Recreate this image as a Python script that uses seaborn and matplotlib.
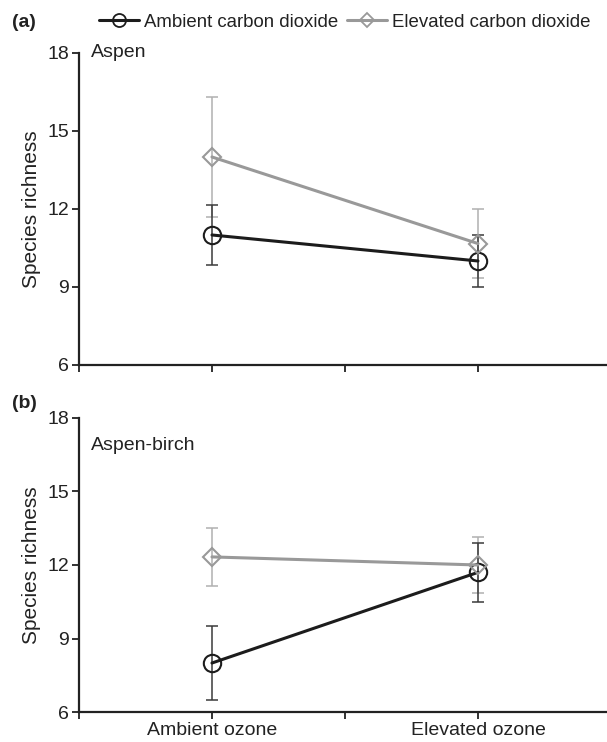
import pandas as pd
import matplotlib
matplotlib.use("Agg")
import matplotlib.pyplot as plt
import seaborn as sns

# values (means and standard errors)
ozone = ["Ambient ozone", "Elevated ozone"]
co2 = ["Ambient carbon dioxide", "Elevated carbon dioxide"]

aspen_ambient = [11.0, 10.0]
aspen_ambient_se = [1.15, 1.0]
aspen_elevated = [14.0, 10.67]
aspen_elevated_se = [2.3, 1.33]

birch_ambient = [8.0, 11.7]
birch_ambient_se = [1.5, 1.2]
birch_elevated = [12.33, 12.0]
birch_elevated_se = [1.2, 1.15]

panels = ["Aspen", "Aspen-birch"]
panel_tags = ["(a)", "(b)"]

# layout: where the ozone levels sit on the x axis
ozone_x = {"Ambient ozone": 1, "Elevated ozone": 3}

rows = []
for panel, amb, amb_se, ele, ele_se in [
    ("Aspen", aspen_ambient, aspen_ambient_se, aspen_elevated, aspen_elevated_se),
    ("Aspen-birch", birch_ambient, birch_ambient_se, birch_elevated, birch_elevated_se),
]:
    for i, oz in enumerate(ozone):
        rows.append({"panel": panel, "ozone": oz, "co2": co2[0], "richness": amb[i], "se": amb_se[i]})
        rows.append({"panel": panel, "ozone": oz, "co2": co2[1], "richness": ele[i], "se": ele_se[i]})
df = pd.DataFrame(rows)
df["x"] = df["ozone"].map(ozone_x)

sns.set_style("ticks")
plt.rcParams["font.family"] = ["Liberation Sans", "DejaVu Sans"]

ink = "#222222"
line_col = {co2[0]: "#1c1c1c", co2[1]: "#999999"}
err_col = {co2[0]: "#3a3a3a", co2[1]: "#b0b0b0"}
markers = {co2[0]: "o", co2[1]: "D"}
msize = {"o": 12.5, "D": 9}

fig = plt.figure(figsize=(6.07, 7.42), dpi=100)
ax_a = fig.add_axes([0.1301, 0.5081, 0.8699, 0.4205])
ax_b = fig.add_axes([0.1301, 0.0404, 0.8699, 0.3963])

for ax, panel in zip([ax_a, ax_b], panels):
    sub = df[df["panel"] == panel]
    for c in co2[::-1]:
        s = sub[sub["co2"] == c]
        ax.errorbar(s["x"], s["richness"], yerr=s["se"], fmt="none",
                    ecolor=err_col[c], elinewidth=1.1, capsize=4, capthick=1.1, zorder=2)
    sns.lineplot(data=sub, x="x", y="richness", hue="co2", palette=line_col,
                 style="co2", markers=markers, dashes=False, lw=2.2,
                 ax=ax, legend=False, zorder=3)
    # open markers, edge in the line colour
    for ln in ax.lines:
        m = ln.get_marker()
        if m in msize:
            ln.set_markersize(msize[m])
            ln.set_markerfacecolor("none")
            ln.set_markeredgecolor(ln.get_color())
            ln.set_markeredgewidth(1.5)
    ax.set_xlim(0, 3.97)
    ax.set_ylim(6, 18)
    ax.set_yticks([6, 9, 12, 15, 18])
    ax.set_xticks([0, 1, 2, 3])
    ax.set_ylabel("Species richness", fontsize=15, color=ink, labelpad=5)
    ax.set_xlabel("")
    ax.tick_params(axis="both", length=5, width=1.3, color=ink,
                   labelsize=14, labelcolor=ink, pad=2)
    for sp in ["left", "bottom"]:
        ax.spines[sp].set_linewidth(1.6)
        ax.spines[sp].set_color(ink)
    sns.despine(ax=ax)

ax_a.text(0.023, 1.0, panels[0], transform=ax_a.transAxes, fontsize=14,
          color=ink, va="center", ha="left")
ax_b.text(0.023, 0.908, panels[1], transform=ax_b.transAxes, fontsize=14,
          color=ink, va="center", ha="left")

ax_a.set_xticklabels([])
ax_b.set_xticklabels(["", ozone[0], "", ozone[1]])

fig.text(0.019, 0.970, panel_tags[0], fontsize=14, fontweight="bold", va="center", color=ink)
fig.text(0.019, 0.456, panel_tags[1], fontsize=14, fontweight="bold", va="center", color=ink)

handles = [plt.Line2D([], [], color=line_col[c], lw=2.2, marker=markers[c],
                      markersize=msize[markers[c]] * 0.75, markerfacecolor="none",
                      markeredgecolor=line_col[c], markeredgewidth=1.3) for c in co2]
fig.legend(handles, co2, loc="center", bbox_to_anchor=(0.568, 0.970), ncol=2,
           frameon=False, fontsize=13.4, handlelength=2.15, handletextpad=0.27,
           columnspacing=0.43, labelcolor=ink, borderaxespad=0, borderpad=0)

fig.savefig("out.png", dpi=100)
